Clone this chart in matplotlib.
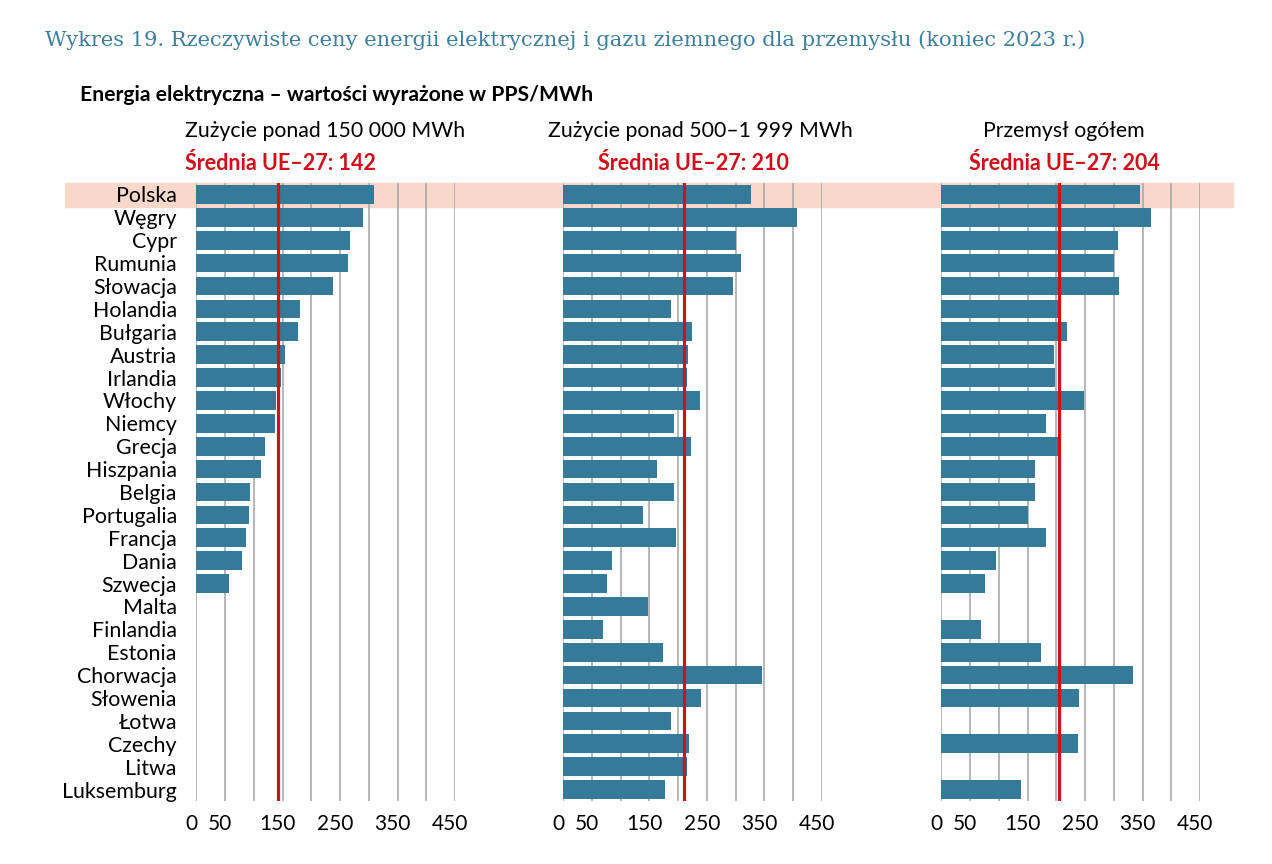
import matplotlib.pyplot as plt
from matplotlib.patches import Rectangle
from matplotlib.transforms import ScaledTranslation

COUNTRIES = [
    "Polska", "Węgry", "Cypr", "Rumunia", "Słowacja", "Holandia", "Bułgaria",
    "Austria", "Irlandia", "Włochy", "Niemcy", "Grecja", "Hiszpania", "Belgia",
    "Portugalia", "Francja", "Dania", "Szwecja", "Malta", "Finlandia", "Estonia",
    "Chorwacja", "Słowenia", "Łotwa", "Czechy", "Litwa", "Luksemburg",
]
N = None
# PPS/MWh, None = brak danych
BIG = [308, 289, 268, 263, 237, 181, 176, 154, 147, 139, 136, 120, 113, 93,
       91, 87, 79, 56, N, N, N, N, N, N, N, N, N]
SMALL = [327, 407, 301, 309, 295, 188, 224, 217, 215, 238, 193, 222, 163, 193,
         139, 196, 85, 76, 148, 69, 174, 346, 240, 188, 219, 215, 177]
TOTAL = [345, 364, 307, 300, 309, 204, 218, 196, 197, 248, 182, 204, 163, 163,
         150, 182, 95, 76, N, 69, 173, 333, 239, N, 237, N, 138]
PANEL_TITLES = ["Zużycie ponad 150 000 MWh", "Zużycie ponad 500–1 999 MWh", "Przemysł ogółem"]
EU_AVG = [142, 210, 204]
XTICKS = [0, 50, 150, 250, 350, 450]

W, H = 1272, 864
BAR = "#367a99"
RED = "#d0101b"
TEAL = "#3d7f9e"


def fx(px):
    return px / W


def fy(py):
    return 1 - py / H


plt.rcParams.update({"font.family": ["Lato", "DejaVu Sans"], "font.size": 15})

fig = plt.figure(figsize=(W / 100, H / 100), dpi=100)

# highlight for Poland (behind the axes)
fig.patches.append(Rectangle((fx(65), fy(207)), fx(1233) - fx(65), fy(183) - fy(207),
                             transform=fig.transFigure, color="#f7d8cb", zorder=-5))

fig.text(fx(45), fy(40), "Wykres 19. Rzeczywiste ceny energii elektrycznej i gazu ziemnego dla przemysłu (koniec 2023 r.)",
         family=["DejaVu Serif"], fontsize=15.1, color=TEAL, va="center", ha="left")
fig.text(fx(80), fy(95), "Energia elektryczna – wartości wyrażone w PPS/MWh",
         fontsize=15.2, fontweight="bold", va="center", ha="left")

lefts = [196.3, 563.0, 941.3]
title_x = [325, 700, 1064]
red_x = [280, 693, 1064]
series = [BIG, SMALL, TOTAL]
pw = 258.9
top, bottom = 183, 801

for i, (left, vals) in enumerate(zip(lefts, series)):
    ax = fig.add_axes([fx(left), fy(bottom), pw / W, (bottom - top) / H])
    ax.set_facecolor("none")
    ys = [k for k, v in enumerate(vals) if v is not None]
    ax.barh(ys, [vals[k] for k in ys], height=0.82, color=BAR, zorder=2)
    ax.axvline(EU_AVG[i], color=RED, lw=2.3, zorder=3)
    ax.set_xlim(0, 450)
    ax.set_ylim(len(COUNTRIES) - 0.5, -0.5)
    for g in range(0, 451, 50):
        ax.axvline(g, color="#a3a3a3", lw=1.1, zorder=1)
    for s in ax.spines.values():
        s.set_visible(False)
    ax.set_xticks(XTICKS)
    ax.set_xticklabels([str(t) for t in XTICKS], fontsize=15)
    ax.tick_params(axis="x", length=0, pad=9)
    offset = ScaledTranslation(-5 / 100, 0, fig.dpi_scale_trans)
    for lab in ax.get_xticklabels():
        lab.set_transform(lab.get_transform() + offset)
    if i == 0:
        ax.set_yticks(range(len(COUNTRIES)))
        ax.set_yticklabels(COUNTRIES, fontsize=15.4)
        ax.tick_params(axis="y", length=0, pad=14)
    else:
        ax.set_yticks([])
    fig.text(fx(title_x[i]), fy(131), PANEL_TITLES[i], fontsize=15.3, ha="center", va="center")
    fig.text(fx(red_x[i]), fy(163), f"Średnia UE–27: {EU_AVG[i]}", fontsize=15.5,
             fontweight="bold", color=RED, ha="center", va="center")

fig.savefig("out.png", dpi=100)
